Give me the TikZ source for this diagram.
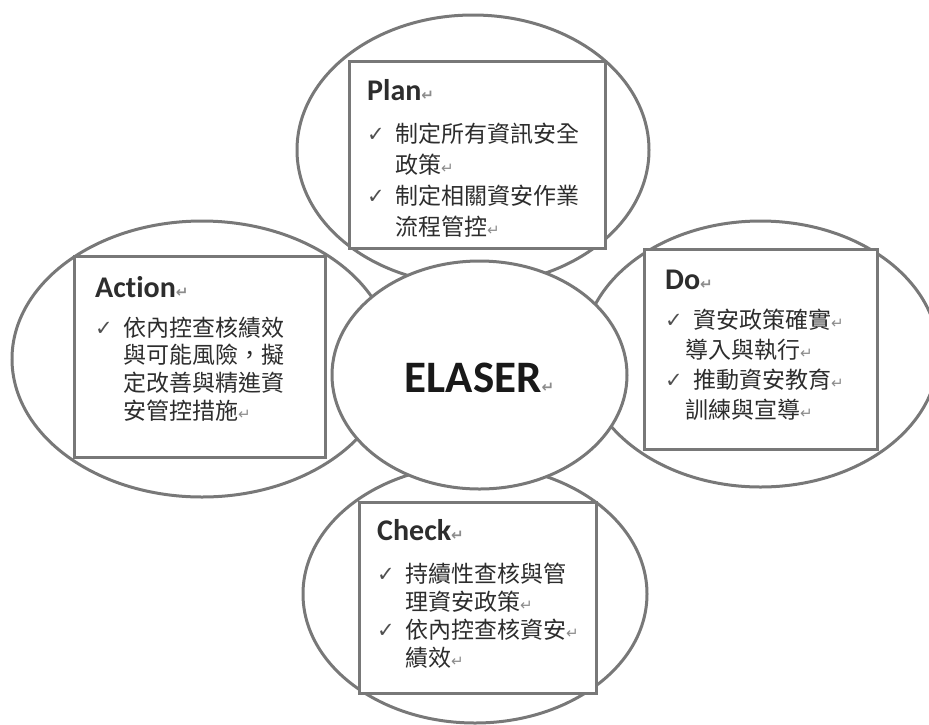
\documentclass[tikz,border=0pt]{standalone}
\usepackage{fontspec}
\setmainfont{Carlito}[Ligatures=NoCommon]
\newfontfamily\cjk{Noto Sans CJK TC}
\newfontfamily\sym{DejaVu Sans}
\usepackage{tikz}
\usetikzlibrary{positioning,shapes.geometric}

\definecolor{linegray}{RGB}{120,120,120}
\definecolor{textgray}{RGB}{45,45,45}
\definecolor{titlegray}{RGB}{45,45,45}
\definecolor{tickgray}{RGB}{80,80,80}
\definecolor{markgray}{RGB}{140,140,140}

\newcommand\retmark{{\sym\fontsize{15}{15}\selectfont\color{markgray}↵}}
\newcommand\chk{\makebox[28pt][l]{\raisebox{1pt}{\sym\fontsize{21}{21}\selectfont\color{tickgray}✓}}}
\newcommand\indentbox{\hspace*{28pt}}

\begin{document}
\begin{tikzpicture}
    [ x = 1pt, y = -1pt
    , ring/.style =
      { draw=linegray, line width=3pt, ellipse, inner sep=0pt, outer sep=0pt }
    , hub/.style =
      { ring, fill=white }
    , panel/.style =
      { draw=linegray, line width=3pt, fill=white, inner sep=0pt, outer sep=0pt }
    , heading/.style =
      { font=\bfseries\fontsize{30}{30}\selectfont, text=titlegray, inner sep=0pt }
    , items/.style =
      { font=\cjk\fontsize{23}{#1}\selectfont, text=textgray, align=left, inner sep=0pt }
    ]
    \useasboundingbox (0,0) rectangle (929,724);
    \clip (0,0) rectangle (929,724);

    % outer rings
    \node [ring, minimum width=352pt, minimum height=270pt] (planring) at (473,150) {};
    \node [ring, minimum width=380pt, minimum height=276pt] (actring) at (202,359) {};
    \node [ring, minimum width=356pt, minimum height=266pt] (doring) at (760.5,354) {};
    \node [ring, minimum width=344pt, minimum height=258pt] (checkring) at (475,594) {};

    % centre
    \node [hub, minimum width=295pt, minimum height=228pt] (hub) at (479.5,375) {};
    \node [font=\bfseries\fontsize{45}{45}\selectfont, text=black!90, inner sep=0pt]
      (elaser) [below=17pt of hub.center, anchor=base] {ELASER\retmark};

    % boxes
    \node [panel, minimum width=256pt, minimum height=187pt] (planbox) at (477,154.5) {};
    \node [panel, minimum width=251pt, minimum height=201pt] (actbox) at (199.5,356.5) {};
    \node [panel, minimum width=233pt, minimum height=200pt] (dobox) at (760.5,349.5) {};
    \node [panel, minimum width=237pt, minimum height=191pt] (checkbox) at (477.5,597.5) {};

    % titles
    \node [heading] (plantitle) [below right=39pt and 18pt of planbox.north west, anchor=base west] {Plan\retmark};
    \node [heading] (acttitle) [below right=41pt and 21pt of actbox.north west, anchor=base west] {Action\retmark};
    \node [heading] (dotitle) [below right=40pt and 21pt of dobox.north west, anchor=base west] {Do\retmark};
    \node [heading] (checktitle) [below right=38pt and 18pt of checkbox.north west, anchor=base west] {Check\retmark};

    % lists
    \node [items=31pt] (planlist) [below=22.5pt of plantitle.base west, anchor=north west]
      {\chk 制定所有資訊安全\\ \indentbox 政策\retmark\\ \chk 制定相關資安作業\\ \indentbox 流程管控\retmark};
    \node [items=27.7pt] (actlist) [below=19.5pt of acttitle.base west, anchor=north west]
      {\chk 依內控查核績效\\ \indentbox 與可能風險，擬\\ \indentbox 定改善與精進資\\ \indentbox 安管控措施\retmark};
    \node [items=30pt] (dolist) [below=19.5pt of dotitle.base west, anchor=north west]
      {\chk 資安政策確實\retmark\\ \hspace*{20pt}導入與執行\retmark\\ \chk 推動資安教育\retmark\\ \hspace*{20pt}訓練與宣導\retmark};
    \node [items=28pt] (checklist) [below=22.5pt of checktitle.base west, anchor=north west]
      {\chk 持續性查核與管\\ \indentbox 理資安政策\retmark\\ \chk 依內控查核資安\retmark\\ \indentbox 績效\retmark};
\end{tikzpicture}
\end{document}
